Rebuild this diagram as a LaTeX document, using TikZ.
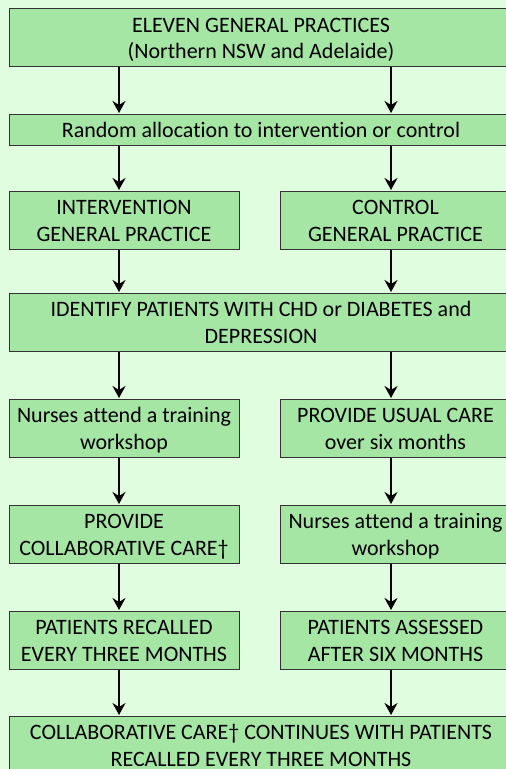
\documentclass[tikz,border=0pt]{standalone}
\usepackage{fontspec}
\setmainfont{Carlito}[Ligatures=NoCommon]
\usetikzlibrary{arrows.meta}
\definecolor{bgcol}{RGB}{224,253,224}
\definecolor{boxcol}{RGB}{165,230,165}
\newcommand{\topstrut}{\rule{0pt}{23.4pt}}
\newcommand{\botstrut}{\rule[-8pt]{0pt}{8pt}}
\tikzset{
  box/.style={draw=black!80,fill=boxcol,line width=0.8pt,inner sep=0pt,align=center,anchor=north,
    font=\fontsize{22}{26.7}\selectfont},
  wide/.style={box,minimum width=504pt},
  half/.style={box,minimum width=230pt},
  arr/.style={-{Stealth[length=12pt,width=13pt,inset=4pt]},line width=2pt,shorten >=1pt}
}

\begin{document}
\begin{tikzpicture}[x=1pt,y=-1pt]
  \path[use as bounding box] (0,0) rectangle (506,769);
  \clip (0,0) rectangle (506,769);
  \fill[bgcol] (0,0) rectangle (506,769);
  \coordinate (lx) at (119,0);
  \coordinate (rx) at (391,0);
  \node[wide] (top) at (261,8.3) {\topstrut ELEVEN GENERAL PRACTICES\\(Northern NSW and Adelaide)\botstrut};
  \node[wide] (rand) at (261,114) {\topstrut Random allocation to intervention or control\botstrut};
  \node[half] (int) at (124,191) {\topstrut INTERVENTION\\GENERAL PRACTICE\botstrut};
  \node[half] (con) at (395.5,191) {\topstrut CONTROL\\GENERAL PRACTICE\botstrut};
  \node[wide] (iden) at (261,293) {\topstrut IDENTIFY PATIENTS WITH CHD or DIABETES and\\DEPRESSION\botstrut};
  \node[half] (nl1) at (124,399) {\topstrut Nurses attend a training\\workshop\botstrut};
  \node[half] (nr1) at (395.5,399) {\topstrut PROVIDE USUAL CARE\\over six months\botstrut};
  \node[half] (nl2) at (124,505) {\topstrut PROVIDE\\COLLABORATIVE CARE†\botstrut};
  \node[half] (nr2) at (395.5,505) {\topstrut Nurses attend a training\\workshop\botstrut};
  \node[half] (nl3) at (124,611) {\topstrut PATIENTS RECALLED\\EVERY THREE MONTHS\botstrut};
  \node[half] (nr3) at (395.5,611) {\topstrut PATIENTS ASSESSED\\AFTER SIX MONTHS\botstrut};
  \node[wide] (bot) at (261,716) {\topstrut COLLABORATIVE CARE† CONTINUES WITH PATIENTS\\RECALLED EVERY THREE MONTHS\botstrut};
  \path[arr]
    (top.south -| lx) edge (rand.north -| lx)
    (top.south -| rx) edge (rand.north -| rx)
    (rand.south -| lx) edge (int.north -| lx)
    (rand.south -| rx) edge (con.north -| rx)
    (int.south -| lx) edge (iden.north -| lx)
    (con.south -| rx) edge (iden.north -| rx)
    (iden.south -| lx) edge (nl1.north -| lx)
    (iden.south -| rx) edge (nr1.north -| rx)
    (nl1.south -| lx) edge (nl2.north -| lx)
    (nr1.south -| rx) edge (nr2.north -| rx)
    (nl2.south -| lx) edge (nl3.north -| lx)
    (nr2.south -| rx) edge (nr3.north -| rx)
    (nl3.south -| lx) edge (bot.north -| lx)
    (nr3.south -| rx) edge (bot.north -| rx);
\end{tikzpicture}
\end{document}
